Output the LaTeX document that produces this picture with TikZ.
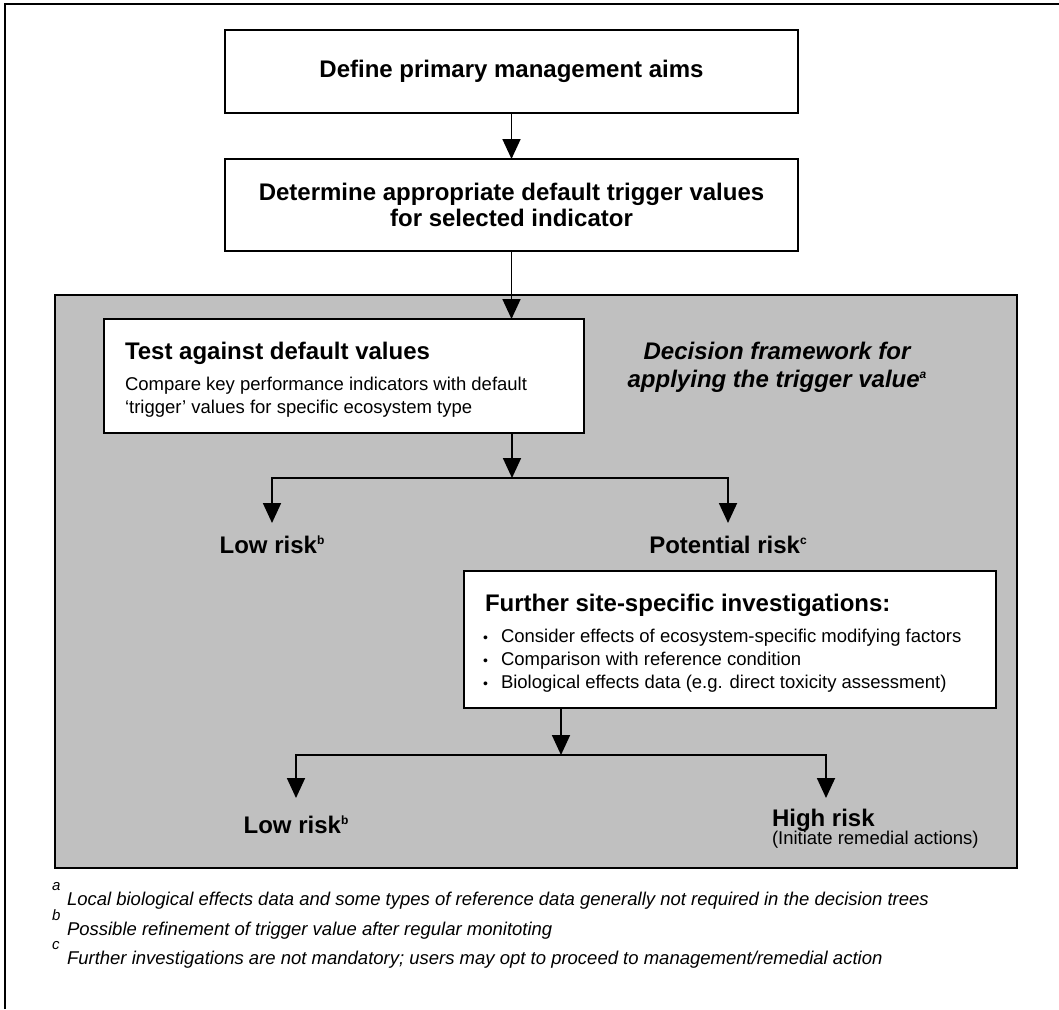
\documentclass[tikz,border=0pt]{standalone}
\usepackage{fontspec}
\setmainfont{Liberation Sans}
\usetikzlibrary{arrows.meta}
\definecolor{panelgray}{RGB}{192,192,192}
% small raised letter used for the footnote marks in headings
\newcommand\supnote[1]{\raisebox{9pt}{\fontsize{12}{12}\selectfont #1}}
% list bullet for the investigation box
\newcommand\listdot{\makebox[18pt][l]{\raisebox{0.3pt}{\fontsize{14}{14}\selectfont\textbullet}}}

\begin{document}
\begin{tikzpicture}[x=1pt,y=-1pt,
  every node/.style={inner sep=0pt, outer sep=0pt},
  stepbox/.style={draw, line width=1.8pt, fill=white, inner sep=0pt},
  wire/.style={line width=1.8pt},
  flow/.style={wire, -{Triangle[length=20pt,width=18pt]}},
  headfont/.style={font=\fontsize{24}{26}\selectfont\bfseries},
  bodyfont/.style={font=\fontsize{18.5}{23}\selectfont},
  notefont/.style={font=\fontsize{18.5}{22}\selectfont\itshape},
  markfont/.style={font=\fontsize{15}{15}\selectfont\itshape}
]
\useasboundingbox (0,0) rectangle (1059,1009);

% page frame (top and left edges)
\draw[line width=2pt] (5,1009) -- (5,4) -- (1059,4);

% grey panel holding the decision framework
\node[draw, fill=panelgray, line width=1.8pt, minimum width=962pt, minimum height=573pt] (panel) at (536,581.5) {};

% top boxes
\node[stepbox, headfont, minimum width=573pt, minimum height=83pt] (aims) at (511.5,71.5) {Define primary management aims};
\node[stepbox, headfont, align=center, minimum width=573pt, minimum height=92pt] (tv) at (511.5,205) {Determine appropriate default trigger values\\for selected indicator};

% test box
\node[stepbox, minimum width=480pt, minimum height=114pt] (test) at (344,376) {};
\node[headfont, anchor=base west] (testh) at (125,359.5) {Test against default values};
\node[bodyfont, anchor=base west] (testa) at (125,390.5) {Compare key performance indicators with default};
\node[bodyfont, anchor=base west] (testb) at (125,413.5) {‘trigger’ values for specific ecosystem type};

% panel title
\node[font=\fontsize{24}{28}\selectfont\bfseries\itshape, anchor=base] (fwa) at (777,359) {Decision framework for};
\node[font=\fontsize{24}{28}\selectfont\bfseries\itshape, anchor=base] (fwb) at (777,387) {applying the trigger value\supnote{a}};

% first split
\coordinate (j1) at (512,478);
\coordinate (j1l) at (272,478);
\coordinate (j1r) at (728,478);
\coordinate (tip1l) at (272,523);
\coordinate (tip1r) at (728,523);
\node[headfont, anchor=base] (low1) at (272,553) {Low risk\supnote{b}};
\node[headfont, anchor=base] (pot) at (728,553) {Potential risk\supnote{c}};

% investigation box
\node[stepbox, minimum width=532pt, minimum height=137pt] (inv) at (730,639.5) {};
\node[headfont, anchor=base west] (invh) at (485,611.5) {Further site-specific investigations:};
\node[bodyfont, anchor=base west] (inv1) at (483,642.5) {\listdot Consider effects of ecosystem-specific modifying factors};
\node[bodyfont, anchor=base west] (inv2) at (483,665.5) {\listdot Comparison with reference condition};
\node[bodyfont, anchor=base west] (inv3) at (483,688.5) {\listdot Biological effects data (e.g. direct toxicity assessment)};

% second split
\coordinate (j2) at (561,755);
\coordinate (j2l) at (296,755);
\coordinate (j2r) at (826,755);
\coordinate (tip2l) at (296,798);
\coordinate (tip2r) at (826,798);
\node[headfont, anchor=base] (low2) at (296,833) {Low risk\supnote{b}};
\node[headfont, anchor=base west] (high) at (772,826) {High risk};
\node[bodyfont, anchor=base west] (remedy) at (772,844) {(Initiate remedial actions)};

% connectors
\draw[flow] (aims) -- (tv);
\draw[flow] (tv.south) -- (tv.south |- test.north);
\draw[flow] (j1 |- test.south) -- (j1);
\draw[flow] (j1) -- (j1l) -- (tip1l);
\draw[flow] (j1) -- (j1r) -- (tip1r);
\draw[flow] (j2 |- inv.south) -- (j2);
\draw[flow] (j2) -- (j2l) -- (tip2l);
\draw[flow] (j2) -- (j2r) -- (tip2r);

% footnotes
\node[markfont, anchor=base west] (ma) at (52,890) {a};
\node[notefont, anchor=base west] (na) at (67,905.5) {Local biological effects data and some types of reference data generally not required in the decision trees};
\node[markfont, anchor=base west] (mb) at (52,920) {b};
\node[notefont, anchor=base west] (nb) at (67,935) {Possible refinement of trigger value after regular monitoting};
\node[markfont, anchor=base west] (mc) at (52,949) {c};
\node[notefont, anchor=base west] (nc) at (67,964) {Further investigations are not mandatory; users may opt to proceed to management/remedial action};
\end{tikzpicture}
\end{document}
